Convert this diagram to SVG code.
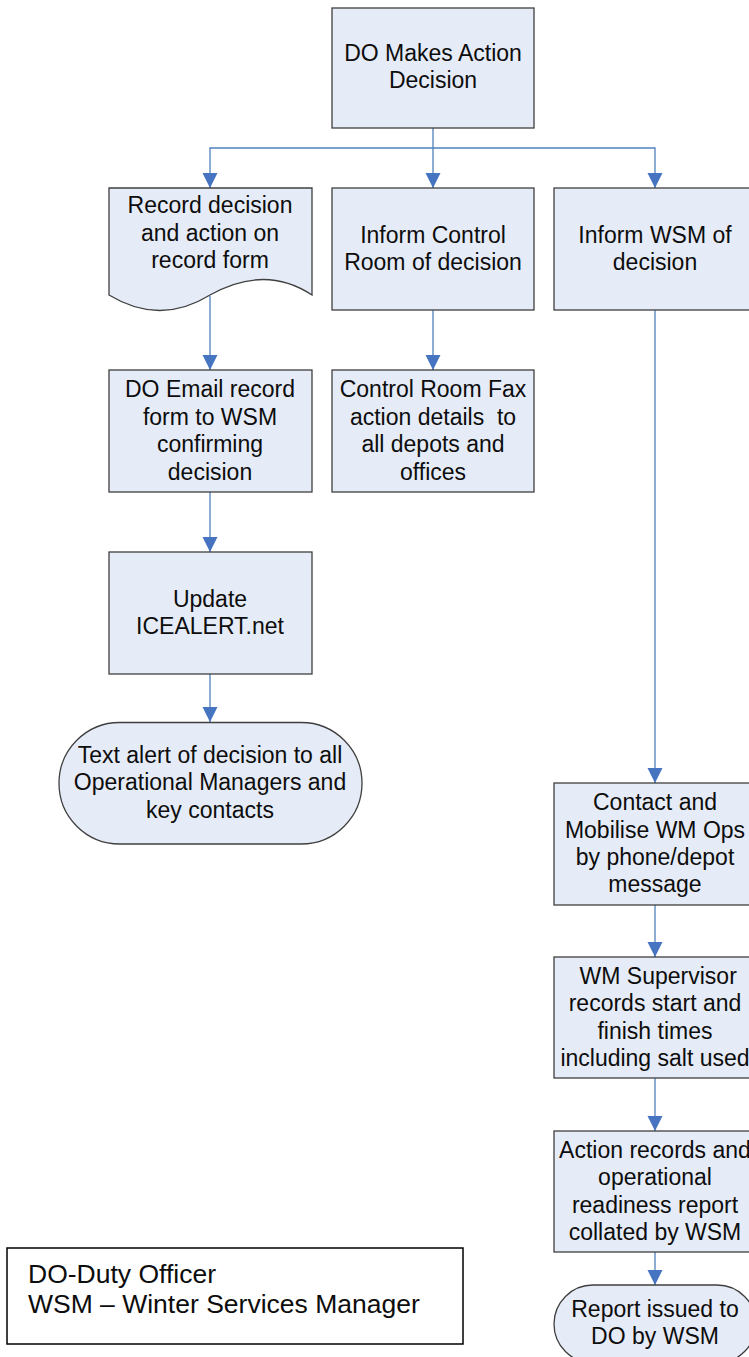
<svg xmlns="http://www.w3.org/2000/svg" width="749" height="1357" viewBox="0 0 749 1357">
<style>
.box{fill:#E6ECF7;stroke:#3F3F3F;stroke-width:1.3}
.t{font-family:"Liberation Sans",Arial,sans-serif;font-size:23px;fill:#0D0D0D;text-anchor:middle}
.lg{font-family:"Liberation Sans",Arial,sans-serif;font-size:26.5px;fill:#0D0D0D}
.c{fill:none;stroke:#4F81BD;stroke-width:1.3}
</style>
<defs>
<marker id="ah" markerUnits="userSpaceOnUse" markerWidth="16" markerHeight="16" viewBox="0 0 16 16" refX="15" refY="8" orient="auto">
<path d="M0,0.5 L15,8 L0,15.5 z" fill="#4674C1"/>
</marker>
</defs>
<rect width="749" height="1357" fill="#FFFFFF"/>
<g id="connectors">
<path class="c" d="M433,128 V188" marker-end="url(#ah)"/>
<path class="c" d="M433,148 H210 V188" marker-end="url(#ah)"/>
<path class="c" d="M433,148 H655 V188" marker-end="url(#ah)"/>
<path class="c" d="M210,296 V370" marker-end="url(#ah)"/>
<path class="c" d="M433,310 V370" marker-end="url(#ah)"/>
<path class="c" d="M210,492 V552" marker-end="url(#ah)"/>
<path class="c" d="M210,674 V722" marker-end="url(#ah)"/>
<path class="c" d="M655,310 V783" marker-end="url(#ah)"/>
<path class="c" d="M655,905 V957" marker-end="url(#ah)"/>
<path class="c" d="M655,1078 V1131" marker-end="url(#ah)"/>
<path class="c" d="M655,1252 V1285" marker-end="url(#ah)"/>
</g>
<g id="n-decision">
<rect class="box" x="332" y="8" width="202" height="120"/>
<text class="t" x="433" y="61">DO Makes Action</text>
<text class="t" x="433" y="88">Decision</text>
</g>
<g id="n-record">
<path class="box" d="M109,188 H312 V295 Q265,264 210,295 Q160,326 109,295 Z"/>
<text class="t" x="210" y="213">Record decision</text>
<text class="t" x="210" y="240.5">and action on</text>
<text class="t" x="210" y="268">record form</text>
</g>
<g id="n-inform-control">
<rect class="box" x="332" y="188" width="202" height="122"/>
<text class="t" x="433" y="243">Inform Control</text>
<text class="t" x="433" y="270">Room of decision</text>
</g>
<g id="n-inform-wsm">
<rect class="box" x="554" y="188" width="202" height="122"/>
<text class="t" x="655" y="243">Inform WSM of</text>
<text class="t" x="655" y="270">decision</text>
</g>
<g id="n-email">
<rect class="box" x="109" y="370" width="203" height="122"/>
<text class="t" x="210" y="397">DO Email record</text>
<text class="t" x="210" y="424.5">form to WSM</text>
<text class="t" x="210" y="452">confirming</text>
<text class="t" x="210" y="479.5">decision</text>
</g>
<g id="n-fax">
<rect class="box" x="332" y="370" width="202" height="122"/>
<text class="t" x="433" y="397">Control Room Fax</text>
<text class="t" x="433" y="424.5" xml:space="preserve">action details  to</text>
<text class="t" x="433" y="452">all depots and</text>
<text class="t" x="433" y="479.5">offices</text>
</g>
<g id="n-update">
<rect class="box" x="109" y="552" width="203" height="122"/>
<text class="t" x="210" y="606.5">Update</text>
<text class="t" x="210" y="633.5">ICEALERT.net</text>
</g>
<g id="n-text-alert">
<rect class="box" x="59" y="722.5" width="303" height="121.5" rx="60.75" ry="60.75"/>
<text class="t" x="210" y="762.5">Text alert of decision to all</text>
<text class="t" x="210" y="790">Operational Managers and</text>
<text class="t" x="210" y="817.5">key contacts</text>
</g>
<g id="n-mobilise">
<rect class="box" x="554" y="783" width="202" height="122"/>
<text class="t" x="655" y="810">Contact and</text>
<text class="t" x="655" y="837.5">Mobilise WM Ops</text>
<text class="t" x="655" y="865">by phone/depot</text>
<text class="t" x="655" y="892">message</text>
</g>
<g id="n-supervisor">
<rect class="box" x="554" y="957" width="202" height="121"/>
<text class="t" x="655" y="983.5" xml:space="preserve"> WM Supervisor</text>
<text class="t" x="655" y="1011">records start and</text>
<text class="t" x="655" y="1038.5">finish times</text>
<text class="t" x="655" y="1066">including salt used</text>
</g>
<g id="n-collated">
<rect class="box" x="554" y="1131" width="202" height="121"/>
<text class="t" x="655" y="1157.5">Action records and</text>
<text class="t" x="655" y="1185">operational</text>
<text class="t" x="655" y="1212.5">readiness report</text>
<text class="t" x="655" y="1240">collated by WSM</text>
</g>
<g id="n-report">
<rect class="box" x="554" y="1285" width="202" height="78" rx="39" ry="39"/>
<text class="t" x="655" y="1316.5">Report issued to</text>
<text class="t" x="655" y="1344">DO by WSM</text>
</g>
<g id="legend">
<rect x="7" y="1248" width="456" height="96" fill="#FFFFFF" stroke="#000000" stroke-width="1.5"/>
<text class="lg" x="28" y="1283">DO-Duty Officer</text>
<text class="lg" x="28" y="1313">WSM – Winter Services Manager</text>
</g>
</svg>
